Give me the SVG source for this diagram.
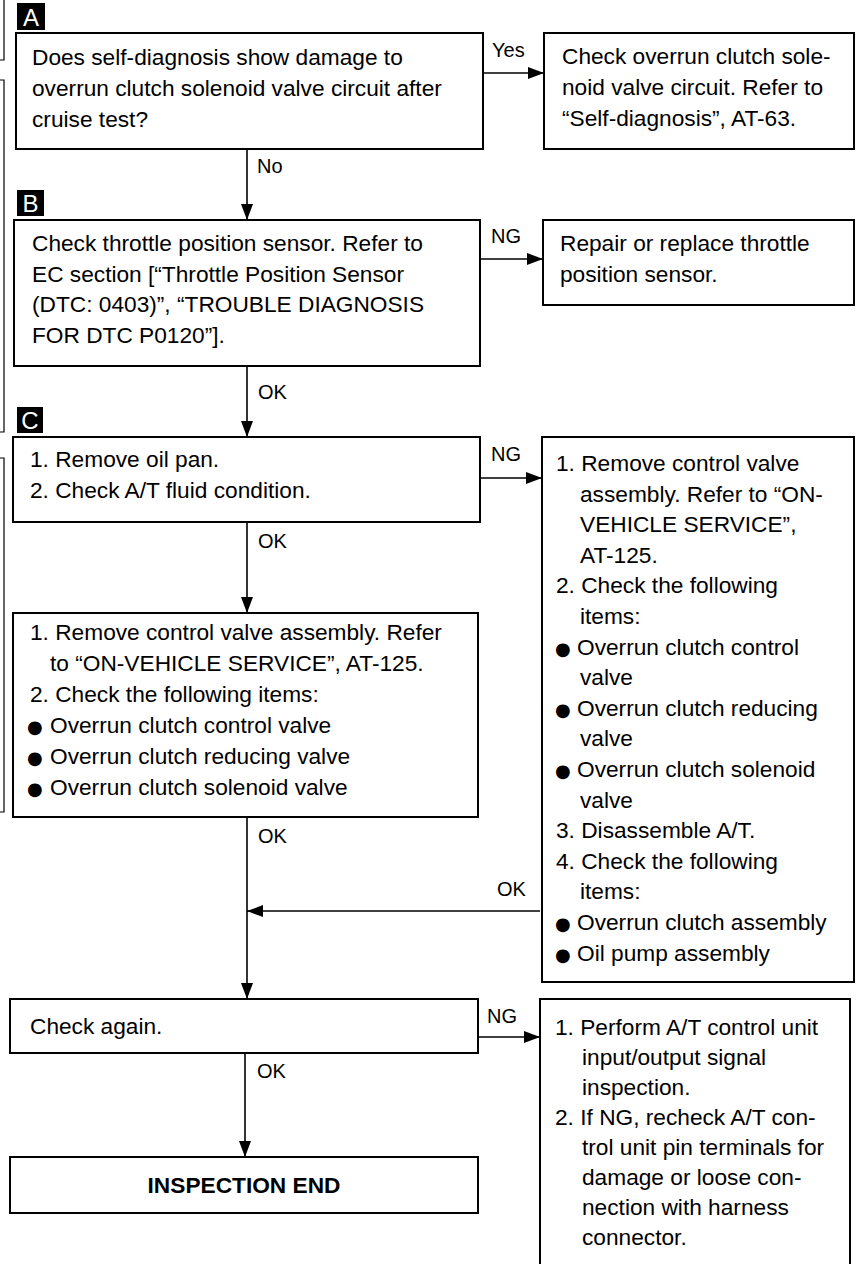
<svg xmlns="http://www.w3.org/2000/svg" width="856" height="1264" viewBox="0 0 856 1264">
<defs>
<style>
.box{fill:#fff;stroke:#000;stroke-width:2}
.t{font-family:"Liberation Sans",Arial,Helvetica,sans-serif;font-size:22.7px;fill:#000}
.lbl{font-family:"Liberation Sans",Arial,Helvetica,sans-serif;font-size:20px;fill:#000}
.tag{fill:#000}
.tagt{font-family:"Liberation Sans",Arial,sans-serif;font-size:24px;fill:#fff;text-anchor:middle}
.bl{font-family:"DejaVu Sans",sans-serif;font-size:18px}
.con{stroke:#000;stroke-width:1.6;fill:none}
.edge{stroke:#000;stroke-width:1.2;fill:none}
</style>
<marker id="ah" viewBox="0 0 16 12" refX="16" refY="6" markerWidth="16" markerHeight="12" markerUnits="userSpaceOnUse" orient="auto">
<path d="M0,0 L16,6 L0,12 Z" fill="#000"/>
</marker>
</defs>
<rect width="856" height="1264" fill="#fff"/>

<g id="page-edge">
<path class="edge" d="M0,60 H4 V0"/>
<path class="edge" d="M0,80 H4 V432 H0"/>
<path class="edge" d="M0,458 H4 V812 H0"/>
</g>

<g id="tags">
<rect class="tag" x="17" y="3" width="28" height="27"/>
<text class="tagt" x="31" y="26">A</text>
<rect class="tag" x="17" y="190" width="27" height="26"/>
<text class="tagt" x="30.5" y="212">B</text>
<rect class="tag" x="17" y="407" width="26" height="26"/>
<text class="tagt" x="30" y="429">C</text>
</g>

<g id="connectors">
<line class="con" x1="483" y1="73" x2="544" y2="73" marker-end="url(#ah)"/>
<line class="con" x1="247" y1="149" x2="247" y2="220" marker-end="url(#ah)"/>
<line class="con" x1="480" y1="259" x2="543" y2="259" marker-end="url(#ah)"/>
<line class="con" x1="247" y1="366" x2="247" y2="437" marker-end="url(#ah)"/>
<line class="con" x1="480" y1="478" x2="542" y2="478" marker-end="url(#ah)"/>
<line class="con" x1="247" y1="522" x2="247" y2="613" marker-end="url(#ah)"/>
<line class="con" x1="247" y1="817" x2="247" y2="999" marker-end="url(#ah)"/>
<line class="con" x1="540" y1="911" x2="247" y2="911" marker-end="url(#ah)"/>
<line class="con" x1="478" y1="1037" x2="540" y2="1037" marker-end="url(#ah)"/>
<line class="con" x1="245" y1="1053" x2="245" y2="1157" marker-end="url(#ah)"/>
<text class="lbl" x="492" y="57">Yes</text>
<text class="lbl" x="257" y="173">No</text>
<text class="lbl" x="491" y="243">NG</text>
<text class="lbl" x="258" y="399">OK</text>
<text class="lbl" x="491" y="461">NG</text>
<text class="lbl" x="258" y="548">OK</text>
<text class="lbl" x="258" y="843">OK</text>
<text class="lbl" x="497" y="896">OK</text>
<text class="lbl" x="487" y="1023">NG</text>
<text class="lbl" x="257" y="1078">OK</text>
</g>

<g id="node-a">
<rect class="box" x="16" y="33" width="467" height="116"/>
<text class="t" x="32" y="65">Does self-diagnosis show damage to</text>
<text class="t" x="32" y="96">overrun clutch solenoid valve circuit after</text>
<text class="t" x="32" y="127">cruise test?</text>
</g>

<g id="node-a-yes">
<rect class="box" x="544" y="33" width="310" height="116"/>
<text class="t" x="562" y="64">Check overrun clutch sole-</text>
<text class="t" x="562" y="95">noid valve circuit. Refer to</text>
<text class="t" x="562" y="126">“Self-diagnosis”, AT-63.</text>
</g>

<g id="node-b">
<rect class="box" x="14" y="220" width="466" height="146"/>
<text class="t" x="32" y="251">Check throttle position sensor. Refer to</text>
<text class="t" x="32" y="282">EC section [“Throttle Position Sensor</text>
<text class="t" x="32" y="312">(DTC: 0403)”, “TROUBLE DIAGNOSIS</text>
<text class="t" x="32" y="343">FOR DTC P0120”].</text>
</g>

<g id="node-b-ng">
<rect class="box" x="543" y="220" width="311" height="85"/>
<text class="t" x="560" y="251">Repair or replace throttle</text>
<text class="t" x="560" y="282">position sensor.</text>
</g>

<g id="node-c1">
<rect class="box" x="13" y="437" width="467" height="85"/>
<text class="t" x="30" y="467">1. Remove oil pan.</text>
<text class="t" x="30" y="498">2. Check A/T fluid condition.</text>
</g>

<g id="node-c1-ng">
<rect class="box" x="542" y="437" width="312" height="545"/>
<text class="t" x="556" y="471">1. Remove control valve</text>
<text class="t" x="580" y="501.6">assembly. Refer to “ON-</text>
<text class="t" x="580" y="532.2">VEHICLE SERVICE”,</text>
<text class="t" x="580" y="562.8">AT-125.</text>
<text class="t" x="556" y="593.4">2. Check the following</text>
<text class="t" x="580" y="624">items:</text>
<text class="t" x="555" y="654.6"><tspan class="bl">●</tspan><tspan x="577">Overrun clutch control</tspan></text>
<text class="t" x="580" y="685.2">valve</text>
<text class="t" x="555" y="715.8"><tspan class="bl">●</tspan><tspan x="577">Overrun clutch reducing</tspan></text>
<text class="t" x="580" y="746.4">valve</text>
<text class="t" x="555" y="777"><tspan class="bl">●</tspan><tspan x="577">Overrun clutch solenoid</tspan></text>
<text class="t" x="580" y="807.6">valve</text>
<text class="t" x="556" y="838.2">3. Disassemble A/T.</text>
<text class="t" x="556" y="868.8">4. Check the following</text>
<text class="t" x="580" y="899.4">items:</text>
<text class="t" x="555" y="930"><tspan class="bl">●</tspan><tspan x="577">Overrun clutch assembly</tspan></text>
<text class="t" x="555" y="960.6"><tspan class="bl">●</tspan><tspan x="577">Oil pump assembly</tspan></text>
</g>

<g id="node-c2">
<rect class="box" x="13" y="613" width="465" height="204"/>
<text class="t" x="30" y="640">1. Remove control valve assembly. Refer</text>
<text class="t" x="50" y="671">to “ON-VEHICLE SERVICE”, AT-125.</text>
<text class="t" x="30" y="702">2. Check the following items:</text>
<text class="t" x="27" y="733"><tspan class="bl">●</tspan><tspan x="50">Overrun clutch control valve</tspan></text>
<text class="t" x="27" y="764"><tspan class="bl">●</tspan><tspan x="50">Overrun clutch reducing valve</tspan></text>
<text class="t" x="27" y="795"><tspan class="bl">●</tspan><tspan x="50">Overrun clutch solenoid valve</tspan></text>
</g>

<g id="node-check">
<rect class="box" x="10" y="999" width="468" height="54"/>
<text class="t" x="30" y="1034">Check again.</text>
</g>

<g id="node-check-ng">
<path class="box" d="M540,1264 V999 H850 V1264"/>
<text class="t" x="555" y="1035">1. Perform A/T control unit</text>
<text class="t" x="582" y="1065">input/output signal</text>
<text class="t" x="582" y="1095">inspection.</text>
<text class="t" x="555" y="1125">2. If NG, recheck A/T con-</text>
<text class="t" x="582" y="1155">trol unit pin terminals for</text>
<text class="t" x="582" y="1185">damage or loose con-</text>
<text class="t" x="582" y="1215">nection with harness</text>
<text class="t" x="582" y="1245">connector.</text>
</g>

<g id="node-end">
<rect class="box" x="10" y="1157" width="468" height="56"/>
<text class="t" x="244" y="1193" text-anchor="middle" font-weight="bold">INSPECTION END</text>
</g>
</svg>
